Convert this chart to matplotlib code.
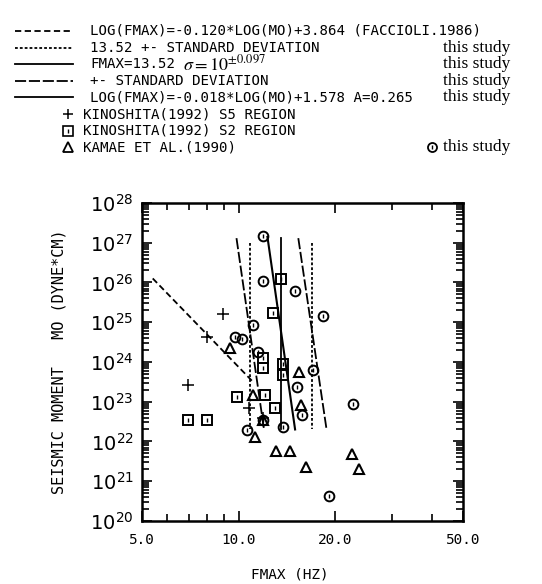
import matplotlib
matplotlib.use('Agg')
import matplotlib.pyplot as plt
from matplotlib.ticker import FixedLocator, FixedFormatter, LogLocator, NullFormatter

plt.rcParams['mathtext.fontset'] = 'stix'
plt.rcParams['lines.scale_dashes'] = False
MONO = 'DejaVu Sans Mono'
SERIF = 'Liberation Serif'

# this study
circ_f = [11.94, 11.94, 15.03, 18.39, 11.11, 9.76, 10.27, 11.52, 17.1, 15.25,
          15.81, 13.79, 22.8, 10.64, 11.94, 19.2]
circ_m = [1.48e27, 1.1e26, 6.1e25, 1.44e25, 8.5e24, 4.3e24, 3.8e24, 1.8e24, 6.3e23, 2.35e23,
          4.6e22, 2.3e22, 8.8e22, 1.95e22, 3.5e22, 4.3e20]
# Kinoshita (1992) S2 region
sq_f = [6.96, 7.98, 9.9, 11.94, 11.94, 12.1, 13.02, 12.83, 13.79, 13.79, 13.59]
sq_m = [3.5e22, 3.5e22, 1.3e23, 1.26e24, 7.0e23, 1.5e23, 6.9e22, 1.7e25, 8.9e23, 4.7e23, 1.23e26]
# Kinoshita (1992) S5 region
plus_f = [8.96, 7.98, 6.96, 10.79, 11.94]
plus_m = [1.6e25, 4.3e24, 2.6e23, 6.9e22, 3.9e22]
# Kamae et al. (1990)
tri_f = [9.42, 11.11, 15.47, 15.6, 11.28, 13.12, 14.5, 16.27, 22.5, 23.8, 11.9]
tri_m = [2.2e24, 1.5e23, 5.6e23, 8.3e22, 1.3e22, 5.8e21, 5.8e21, 2.3e21, 4.9e21, 2.0e21, 3.5e22]

# lines (end points)
facc_f = [5.40, 11.07]
facc_m = [1.26e26, 3.2e23]
reg_f = [12.3, 15.0]
reg_m = [1.4e27, 2.0e22]
sdlo_f = [9.85, 12.0]
sdhi_f = [15.35, 18.8]
sd_m = [1.3e27, 2.0e22]
fmax_f = [13.52, 13.52]
fmax_m = [1.3e27, 2.0e22]
vlo_f = [10.82, 10.82]
vhi_f = [16.9, 16.9]
v_m = [1.0e27, 2.0e22]

xticks = [5, 10, 20, 50]
xlabels = ['5.0', '10.0', '20.0', '50.0']
xminor = [6, 7, 8, 9, 30, 40]

DASH_FACC = (0, (4.5, 2.5))
DASH_V = (0, (2.0, 1.5))
DASH_SD = (0, (8, 2))

fig = plt.figure(figsize=(5.42, 5.84), dpi=100)
ax = fig.add_axes([0.262, 0.108, 0.592, 0.5445])
ax.set_xscale('log')
ax.set_yscale('log')
ax.set_xlim(5, 50)
ax.set_ylim(1e20, 1e28)

ax.plot(facc_f, facc_m, color='k', lw=1.3, ls=DASH_FACC)
ax.plot(vlo_f, v_m, color='k', lw=1.3, ls=DASH_V)
ax.plot(vhi_f, v_m, color='k', lw=1.3, ls=DASH_V)
ax.plot(fmax_f, fmax_m, color='k', lw=1.3)
ax.plot(sdlo_f, sd_m, color='k', lw=1.3, ls=DASH_SD)
ax.plot(sdhi_f, sd_m, color='k', lw=1.3, ls=DASH_SD)
ax.plot(reg_f, reg_m, color='k', lw=1.5)

ax.plot(circ_f, circ_m, 'o', mfc='none', mec='k', ms=7, mew=1.4)
ax.plot(circ_f, circ_m, '|', color='k', ms=3, mew=1)
ax.plot(sq_f, sq_m, 's', mfc='none', mec='k', ms=7.5, mew=1.4)
ax.plot(sq_f, sq_m, '|', color='k', ms=3, mew=1)
ax.plot(plus_f, plus_m, '+', color='k', ms=8, mew=1.1)
ax.plot(tri_f, tri_m, '^', mfc='none', mec='k', ms=7, mew=1.5)

ax.xaxis.set_major_locator(FixedLocator(xticks))
ax.xaxis.set_major_formatter(FixedFormatter(xlabels))
ax.xaxis.set_minor_locator(FixedLocator(xminor))
ax.xaxis.set_minor_formatter(NullFormatter())
ax.yaxis.set_major_locator(LogLocator(base=10, numticks=20))
ax.yaxis.set_minor_locator(LogLocator(base=10, subs=range(2, 10), numticks=20))
ax.yaxis.set_minor_formatter(NullFormatter())
ax.tick_params(which='both', direction='in', top=True, right=True, width=1.2)
ax.tick_params(which='major', length=7)
ax.tick_params(which='minor', length=5)
ax.tick_params(axis='x', which='major', pad=9, labelsize=10.4)
ax.tick_params(axis='y', which='major', pad=6, labelsize=14)
for lab in ax.get_xticklabels():
    lab.set_family(MONO)
for s in ax.spines.values():
    s.set_linewidth(1.8)

ax.set_xlabel('FMAX (HZ)', family=MONO, fontsize=10.4)
ax.xaxis.set_label_coords(0.461, -0.145)
ax.set_ylabel('SEISMIC MOMENT   MO (DYNE*CM)', family=MONO, fontsize=11)
ax.yaxis.set_label_coords(-0.235, 0.5)

# legend block drawn in pixel coordinates
ov = fig.add_axes([0, 0, 1, 1])
ov.set_xlim(0, 542)
ov.set_ylim(584, 0)
ov.axis('off')
rows = [31, 47.6, 64.2, 80.8, 97.4, 114, 130.6, 147.2]
styles = [DASH_FACC, DASH_V, '-', DASH_SD, '-']
texts = ['LOG(FMAX)=-0.120*LOG(MO)+3.864 (FACCIOLI.1986)',
         '13.52 +- STANDARD DEVIATION',
         'FMAX=13.52',
         '+- STANDARD DEVIATION',
         'LOG(FMAX)=-0.018*LOG(MO)+1.578 A=0.265']
for i in range(5):
    y = rows[i]
    ov.plot([15, 73], [y, y], color='k', lw=1.3, ls=styles[i])
    ov.text(90, y, texts[i], family=MONO, fontsize=10.2, va='center')
    if i > 0:
        ov.text(510, y, 'this study', family=SERIF, fontsize=12.5, va='center', ha='right')
ov.text(183, rows[2] + 0.5, r'$\sigma = 10^{\pm 0.097}$', fontsize=13, va='center')

ov.plot([68], [rows[5]], '+', color='k', ms=7, mew=1.1)
ov.text(83, rows[5], 'KINOSHITA(1992) S5 REGION', family=MONO, fontsize=10.2, va='center')
ov.plot([68], [rows[6]], 's', mfc='none', mec='k', ms=6.5, mew=1.2)
ov.plot([68], [rows[6]], '|', color='k', ms=3, mew=1)
ov.text(83, rows[6], 'KINOSHITA(1992) S2 REGION', family=MONO, fontsize=10.2, va='center')
ov.plot([68], [rows[7]], '^', mfc='none', mec='k', ms=6.5, mew=1.3)
ov.text(83, rows[7], 'KAMAE ET AL.(1990)', family=MONO, fontsize=10.2, va='center')
ov.plot([432], [rows[7]], 'o', mfc='none', mec='k', ms=6.5, mew=1.3)
ov.plot([432], [rows[7]], '|', color='k', ms=3, mew=1)
ov.text(510, rows[7], 'this study', family=SERIF, fontsize=12.5, va='center', ha='right')

fig.savefig('out.png', dpi=100)
